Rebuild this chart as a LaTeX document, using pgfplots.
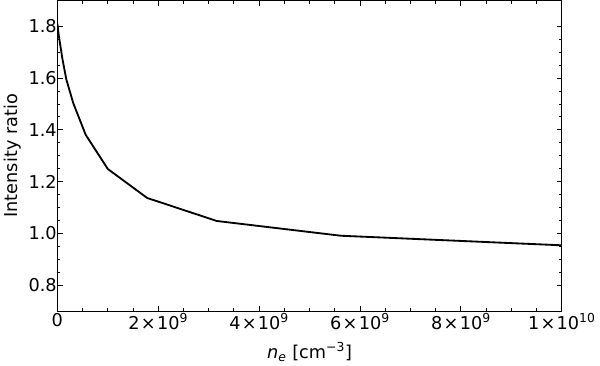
\documentclass[border=0pt]{standalone}
\usepackage{pgfplots}
\pgfplotsset{compat=1.18}
\usepackage{fontspec}
\setmainfont{DejaVu Sans}
\newcommand{\tx}[2]{#1\kern1pt×\kern1pt10\textsuperscript{#2}}

\begin{document}
\begin{tikzpicture}
\begin{axis}[
    scale only axis,
    width=385pt,
    height=237pt,
    xmin=0, xmax=1e10,
    ymin=0.7, ymax=1.9,
    axis line style={line width=0.75pt},
    tick style={line width=0.75pt, black},
    tick align=inside,
    major tick length=4pt,
    minor tick length=2.3pt,
    xtick={0,2e9,4e9,6e9,8e9,1e10},
    xticklabels={0,{\tx{2}{9}},{\tx{4}{9}},{\tx{6}{9}},{\tx{8}{9}},{\tx{1}{10}}},
    minor x tick num=3,
    ytick={0.8,1.0,1.2,1.4,1.6,1.8},
    minor y tick num=3,
    scaled x ticks=false,
    yticklabel style={/pgf/number format/fixed, /pgf/number format/fixed zerofill, /pgf/number format/precision=1, xshift=3pt},
    /pgf/number format/assume math mode=true,
    ticklabel style={font=\fontsize{13.5}{15}\selectfont},
    xticklabel style={yshift=2pt},
    label style={font=\fontsize{13.5}{15}\selectfont},
    xlabel={\textit{n}\textsubscript{\textit{e}} [cm\textsuperscript{−3}]},
    ylabel={Intensity ratio},
    xlabel style={yshift=-3pt},
    ylabel style={yshift=-1.5pt},
]
\addplot[black, line width=1.4pt] coordinates {
    (0, 1.81) (2.5e7, 1.77) (5.6e7, 1.73) (1e8, 1.675) (1.78e8, 1.595)
    (3.16e8, 1.503) (5.62e8, 1.381) (1e9, 1.249) (1.78e9, 1.137)
    (3.16e9, 1.048) (5.62e9, 0.991) (1e10, 0.954)
};
\end{axis}
\end{tikzpicture}
\end{document}
